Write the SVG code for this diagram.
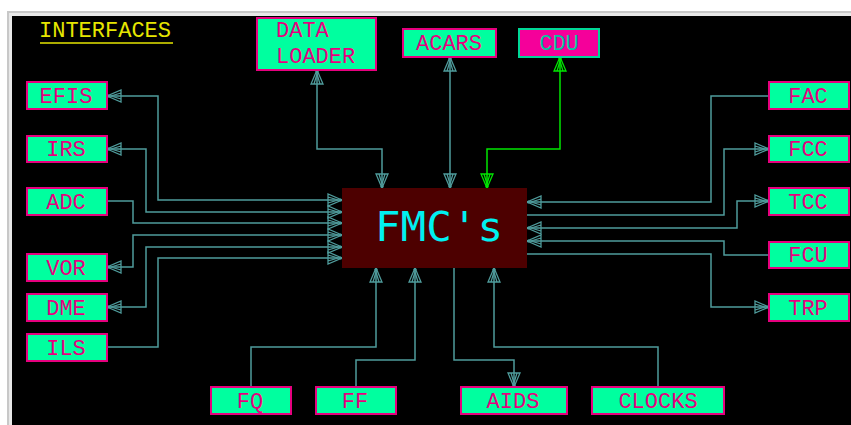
<svg xmlns="http://www.w3.org/2000/svg" width="851" height="425" viewBox="0 0 851 425">
<style>
.box{fill:#00ff9f;stroke:#e6007e;stroke-width:2}
.lbl{font-family:"Liberation Mono",monospace;font-size:22px;fill:#e6007e;text-anchor:middle}
.cn{fill:none;stroke:#4f9c9c;stroke-width:1.5}
.gn{fill:none;stroke:#00e600;stroke-width:1.5}
</style>
<defs>
<marker id="a" markerUnits="userSpaceOnUse" viewBox="-16 -8 18 16" refX="0" refY="0" markerWidth="18" markerHeight="16" orient="auto-start-reverse">
<path d="M0,0 L-14,-6 L-14,6 Z M-14,-3 L-4,0 L-14,3" fill="none" stroke="#4f9c9c" stroke-width="1.3"/>
<circle cx="-1.5" cy="0" r="1.6" fill="#4f9c9c"/>
</marker>
<marker id="g" markerUnits="userSpaceOnUse" viewBox="-16 -8 18 16" refX="0" refY="0" markerWidth="18" markerHeight="16" orient="auto-start-reverse">
<path d="M0,0 L-14,-6 L-14,6 Z M-14,-3 L-4,0 L-14,3" fill="none" stroke="#00e600" stroke-width="1.3"/>
<circle cx="-1.5" cy="0" r="1.6" fill="#00e600"/>
</marker>
</defs>
<rect x="0" y="0" width="851" height="425" fill="#ffffff"/>
<rect x="7" y="11" width="844" height="414" fill="#c8c8c8"/>
<rect x="9" y="13" width="842" height="412" fill="#e8e8e8"/>
<rect x="12" y="16" width="839" height="409" fill="#000000"/>

<g id="title">
<text x="105" y="37" style="font-family:'Liberation Mono',monospace;font-size:22px;fill:#e6e600;text-anchor:middle">INTERFACES</text>
<line x1="40" y1="43" x2="173" y2="43" stroke="#e6e600" stroke-width="1.5"/>
</g>

<g id="connectors">
<path class="cn" d="M107,96 H158 V200 H342" marker-start="url(#a)" marker-end="url(#a)"/>
<path class="cn" d="M107,149 H146 V212 H342" marker-start="url(#a)" marker-end="url(#a)"/>
<path class="cn" d="M107,201 H133 V223 H342" marker-end="url(#a)"/>
<path class="cn" d="M107,267 H133 V235 H342" marker-start="url(#a)" marker-end="url(#a)"/>
<path class="cn" d="M107,307 H146 V247 H342" marker-start="url(#a)" marker-end="url(#a)"/>
<path class="cn" d="M107,347 H158 V258 H342" marker-end="url(#a)"/>

<path class="cn" d="M769,96 H711 V202 H527" marker-end="url(#a)"/>
<path class="cn" d="M527,215 H724 V149 H769" marker-end="url(#a)"/>
<path class="cn" d="M769,201 H737 V228 H527" marker-start="url(#a)" marker-end="url(#a)"/>
<path class="cn" d="M769,255 H724 V241 H527" marker-end="url(#a)"/>
<path class="cn" d="M527,254 H711 V307 H769" marker-end="url(#a)"/>

<path class="cn" d="M317,70 V149 H382 V188" marker-start="url(#a)" marker-end="url(#a)"/>
<path class="cn" d="M450,57 V188" marker-start="url(#a)" marker-end="url(#a)"/>
<path class="gn" d="M560,57 V149 H487 V188" marker-start="url(#g)" marker-end="url(#g)"/>

<path class="cn" d="M251,387 V347 H376 V268" marker-end="url(#a)"/>
<path class="cn" d="M356,387 V360 H415 V268" marker-end="url(#a)"/>
<path class="cn" d="M454,268 V360 H514 V387" marker-end="url(#a)"/>
<path class="cn" d="M658,387 V347 H494 V268" marker-end="url(#a)"/>
</g>

<g id="fmc">
<rect x="342" y="188" width="185" height="80" fill="#4d0000"/>
<text x="375" y="241" textLength="128" lengthAdjust="spacingAndGlyphs" style="font-family:'DejaVu Sans Mono',monospace;font-size:40px;fill:#00f0f0">FMC's</text>
</g>

<g id="dataloader">
<rect class="box" x="257" y="18" width="119" height="52"/>
<text x="276" y="37" class="lbl" style="text-anchor:start">DATA</text>
<text x="276" y="63" class="lbl" style="text-anchor:start">LOADER</text>
</g>
<g id="acars"><rect class="box" x="403" y="29" width="93" height="28"/><text x="449" y="50" class="lbl">ACARS</text></g>
<g id="cdu"><rect x="519" y="29" width="80" height="28" fill="#f5009a" stroke="#00d896" stroke-width="2"/><text x="559" y="50" class="lbl" style="fill:#00c8a0">CDU</text></g>

<g id="efis"><rect class="box" x="27" y="82" width="80" height="27"/><text x="66" y="103" class="lbl">EFIS</text></g>
<g id="irs"><rect class="box" x="27" y="136" width="80" height="26"/><text x="66" y="156" class="lbl">IRS</text></g>
<g id="adc"><rect class="box" x="27" y="188" width="80" height="27"/><text x="66" y="209" class="lbl">ADC</text></g>
<g id="vor"><rect class="box" x="27" y="254" width="80" height="27"/><text x="66" y="275" class="lbl">VOR</text></g>
<g id="dme"><rect class="box" x="27" y="294" width="80" height="27"/><text x="66" y="315" class="lbl">DME</text></g>
<g id="ils"><rect class="box" x="27" y="334" width="80" height="27"/><text x="66" y="355" class="lbl">ILS</text></g>

<g id="fac"><rect class="box" x="769" y="82" width="80" height="27"/><text x="808" y="103" class="lbl">FAC</text></g>
<g id="fcc"><rect class="box" x="769" y="136" width="80" height="26"/><text x="808" y="156" class="lbl">FCC</text></g>
<g id="tcc"><rect class="box" x="769" y="188" width="80" height="27"/><text x="808" y="209" class="lbl">TCC</text></g>
<g id="fcu"><rect class="box" x="769" y="242" width="80" height="26"/><text x="808" y="262" class="lbl">FCU</text></g>
<g id="trp"><rect class="box" x="769" y="294" width="80" height="27"/><text x="808" y="315" class="lbl">TRP</text></g>

<g id="fq"><rect class="box" x="211" y="387" width="80" height="27"/><text x="250" y="408" class="lbl">FQ</text></g>
<g id="ff"><rect class="box" x="316" y="387" width="80" height="27"/><text x="355" y="408" class="lbl">FF</text></g>
<g id="aids"><rect class="box" x="461" y="387" width="106" height="27"/><text x="513" y="408" class="lbl">AIDS</text></g>
<g id="clocks"><rect class="box" x="592" y="387" width="132" height="27"/><text x="658" y="408" class="lbl">CLOCKS</text></g>
</svg>
